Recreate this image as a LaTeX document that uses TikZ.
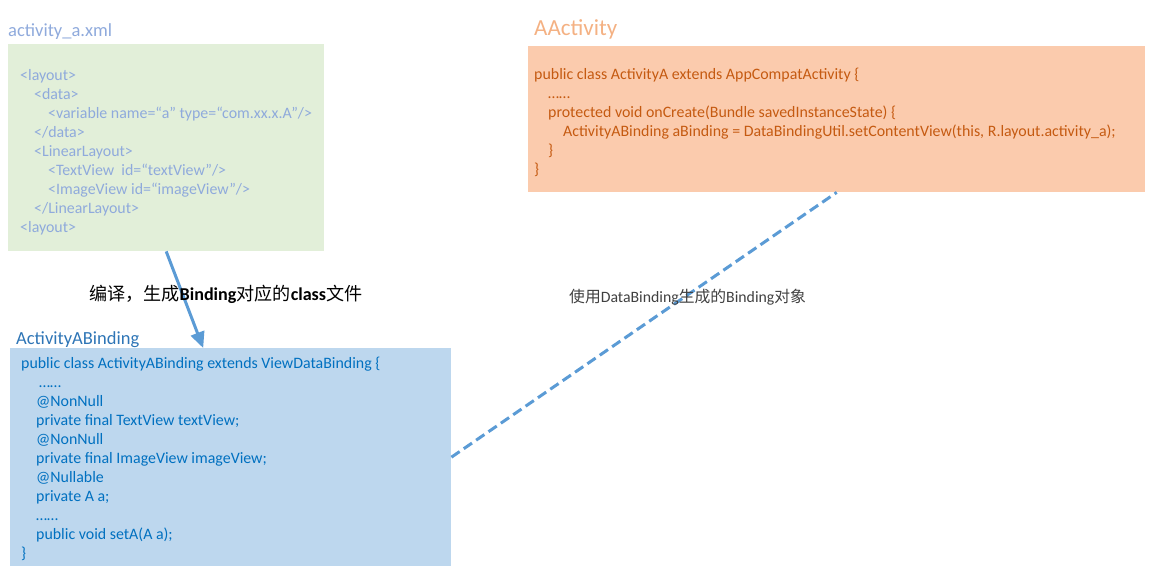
\documentclass[tikz,border=0pt]{standalone}
\usepackage{fontspec}
\setmainfont{Carlito}
\newfontfamily\cjk{Noto Sans CJK SC}
\usetikzlibrary{arrows.meta}
\definecolor{greenfill}{HTML}{E2EFD9}
\definecolor{greentext}{HTML}{8FAADC}
\definecolor{orangefill}{HTML}{FBCBAD}
\definecolor{orangetitle}{HTML}{F4B183}
\definecolor{orangetext}{HTML}{C55A11}
\definecolor{bluefill}{HTML}{BDD7EE}
\definecolor{bluetitle}{HTML}{2E75B6}
\definecolor{bluetext}{HTML}{0070C0}
\definecolor{linkblue}{HTML}{5B9BD5}
\definecolor{graytext}{HTML}{404040}
\tikzset{
  panel/.style={draw=none, inner sep=0pt, anchor=north west},
  codeline/.style={inner sep=0pt, anchor=base west, font=\fontsize{15.9}{19}\selectfont},
  title/.style={inner sep=0pt, anchor=base west, font=\fontsize{18.5}{22}\selectfont},
  flow/.style={linkblue, line width=3pt},
}
\begin{document}
\begin{tikzpicture}[x=1pt,y=-1pt]
\useasboundingbox (0,0) rectangle (1169,585);
% panels
\node[panel, fill=greenfill, minimum width=316pt, minimum height=207pt] (green) at (8,44) {};
\node[panel, fill=orangefill, minimum width=617pt, minimum height=146pt] (orange) at (528,46) {};
\node[panel, fill=bluefill, minimum width=441pt, minimum height=218pt] (blue) at (10,348) {};
% titles
\node[title, text=greentext] (tg) at (8,37) {activity\_a.xml};
\node[title, text=orangetitle, font=\fontsize{23}{26}\selectfont] (to) at (534,36) {AActivity};
\node[title, text=bluetitle] (tb) at (16,344) {ActivityABinding};
% green code
\begin{scope}[every node/.style={codeline, text=greentext}]
\node (g1) at (20,81) {<layout>};
\node (g2) at (34,100) {<data>};
\node (g3) at (48,119) {<variable name=“a” type=“com.xx.x.A”/>};
\node (g4) at (34,138) {</data>};
\node (g5) at (34,157) {<LinearLayout>};
\node (g6) at (48,176) {<TextView\ \ id=“textView”/>};
\node (g7) at (48,195) {<ImageView id=“imageView”/>};
\node (g8) at (34,214) {</LinearLayout>};
\node (g9) at (20,233) {<layout>};
\end{scope}
% orange code
\begin{scope}[every node/.style={codeline, text=orangetext}]
\node (o1) at (534,80) {public class ActivityA extends AppCompatActivity \{};
\node (o2) at (548,99) {……};
\node (o3) at (548,118) {protected void onCreate(Bundle savedInstanceState) \{};
\node (o4) at (563,137) {ActivityABinding aBinding = DataBindingUtil.setContentView(this, R.layout.activity\_a);};
\node (o5) at (548,156) {\}};
\node (o6) at (534,175) {\}};
\end{scope}
% blue code
\begin{scope}[every node/.style={codeline, text=bluetext}]
\node (b1) at (21,368) {public class ActivityABinding extends ViewDataBinding \{};
\node (b2) at (39,387) {……};
\node (b3) at (36,406) {@NonNull};
\node (b4) at (36,425) {private final TextView textView;};
\node (b5) at (36,444) {@NonNull};
\node (b6) at (36,463) {private final ImageView imageView;};
\node (b7) at (36,482) {@Nullable};
\node (b8) at (36,501) {private A a;};
\node (b9) at (36,520) {……};
\node (b10) at (36,539) {public void setA(A a);};
\node (b11) at (21,558) {\}};
\end{scope}
% connectors
\coordinate (bt) at ([xshift=-27.5pt]blue.north);
\draw[flow, -{Triangle[length=16pt,width=14pt]}] (green.south) -- (bt);
\draw[flow, dash pattern=on 10pt off 5pt] (blue.east) -- (orange.south);
% labels
\node[inner sep=0pt, anchor=base west, font=\fontsize{18.1}{21}\selectfont] (l1) at (89,300)
  {{\cjk 编译，生成}\textbf{Binding}{\cjk 对应的}\textbf{class}{\cjk 文件}};
\node[inner sep=0pt, anchor=base west, text=graytext, font=\fontsize{15.8}{18}\selectfont] (l2) at (569,302)
  {{\cjk 使用}DataBinding{\cjk 生成的}Binding{\cjk 对象}};
\end{tikzpicture}
\end{document}
